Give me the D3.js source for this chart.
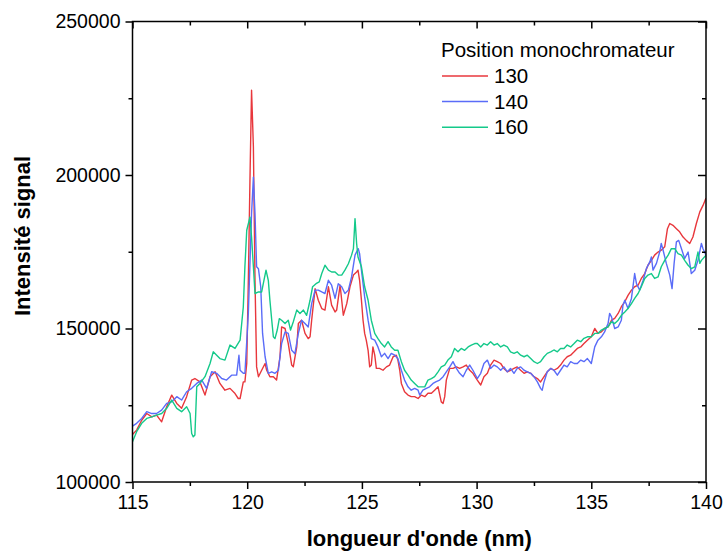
<!DOCTYPE html>
<html>
<head>
<meta charset="utf-8">
<script src="https://cdn.jsdelivr.net/npm/d3@7"></script>
<style>
  body { margin: 0; background: #fff; }
  text { font-family: Arial, "Liberation Sans", sans-serif; }
</style>
</head>
<body>
<div id="chart"></div>
<script>
// spectra: [wavelength nm, signal in thousands]
const s130 = [
  [115.0,115.5],[115.18,116.9],[115.40,120.1],[115.62,122.3],[115.84,121.2],[116.05,121.8],[116.27,119.6],[116.49,124.5],
  [116.71,128.3],[116.93,125.6],[117.14,124.0],[117.36,127.8],[117.58,133.2],[117.72,133.7],[117.94,132.6],[118.16,128.3],
  [118.38,134.3],[118.60,135.9],[118.81,132.1],[119.03,129.9],[119.25,130.5],[119.47,128.8],[119.61,127.2],
  [119.69,127.2],[119.83,132.6],[119.90,132.6],[119.98,138.6],[120.05,165.7],[120.12,198.3],[120.19,227.6],[120.27,209.1],
  [120.34,165.7],[120.41,137.5],[120.49,134.3],[120.63,136.4],[120.78,138.6],[120.85,136.4],[120.99,134.3],[121.14,134.3],
  [121.28,133.2],[121.43,140.8],[121.50,150.5],[121.65,150.0],[121.79,145.1],[121.94,138.1],[122.01,137.5],[122.16,144.0],
  [122.23,151.6],[122.37,152.7],[122.52,148.4],[122.66,146.7],[122.74,147.3],[122.81,152.7],[122.96,163.0],[123.10,159.2],
  [123.25,156.5],[123.39,156.0],[123.54,163.6],[123.68,157.6],[123.83,155.4],[123.90,156.0],[124.05,164.1],[124.19,154.3],
  [124.34,158.1],[124.48,163.6],[124.63,167.4],[124.77,168.4],
  [124.83,169.0],[124.90,165.7],[124.98,159.2],[125.05,152.7],[125.12,148.4],[125.19,146.2],[125.27,142.9],[125.34,137.5],
  [125.41,138.1],[125.48,144.0],[125.56,141.3],[125.63,137.0],[125.77,137.0],[125.92,136.4],[126.07,137.5],[126.21,138.1],
  [126.36,140.8],[126.50,141.3],[126.57,139.7],[126.65,136.4],[126.72,132.1],[126.86,129.4],[127.01,128.3],[127.15,127.8],
  [127.30,127.8],[127.45,127.2],[127.59,128.3],[127.74,127.8],[127.88,128.9],[128.03,128.9],[128.17,129.9],[128.32,131.0],
  [128.46,126.1],[128.54,125.6],[128.61,127.8],[128.68,133.2],[128.83,137.0],[128.97,137.0],[129.12,137.5],[129.26,137.0],
  [129.41,137.5],[129.55,138.1],[129.70,136.4],[129.84,135.4],
  [130.03,133.2],[130.18,131.6],[130.32,134.3],[130.47,135.4],[130.61,138.1],[130.76,139.7],[130.90,139.2],[131.05,138.6],
  [131.19,137.0],[131.34,135.9],[131.48,136.4],[131.63,137.0],[131.77,137.5],[131.92,136.4],[132.07,135.4],[132.21,135.9],
  [132.36,135.4],[132.50,134.3],[132.65,133.7],[132.79,132.6],[132.94,134.3],[133.08,135.9],[133.23,137.0],[133.37,136.4],
  [133.52,137.0],[133.66,138.1],[133.81,139.7],[133.95,140.8],[134.10,141.3],[134.25,142.4],[134.39,143.5],[134.54,144.0],
  [134.68,145.1],[134.83,146.2],
  [135.00,147.3],[135.15,150.0],[135.29,148.4],[135.44,148.9],[135.58,150.0],[135.73,150.5],[135.88,152.7],[136.02,153.3],
  [136.17,154.9],[136.31,157.1],[136.46,158.7],[136.60,160.8],[136.75,162.5],[136.89,163.6],[137.04,164.1],[137.18,166.3],
  [137.33,167.9],[137.47,170.6],[137.62,172.2],[137.76,173.9],[137.91,174.9],[138.05,175.5],[138.20,176.6],[138.32,182.5],
  [138.42,184.2],[138.56,183.6],[138.71,182.5],[138.85,181.5],[139.00,179.8],[139.14,178.7],[139.29,177.7],[139.43,179.8],
  [139.58,184.2],[139.73,188.0],[139.87,190.1],[140.0,192.5]
];

const s140 = [
  [115.0,118.2],[115.18,119.1],[115.40,120.7],[115.62,122.9],[115.84,122.3],[116.05,122.3],[116.27,123.4],[116.49,125.6],
  [116.71,126.1],[116.93,127.8],[117.14,126.7],[117.36,129.4],[117.58,130.5],[117.80,132.1],[118.02,133.2],[118.23,130.5],
  [118.45,135.9],[118.67,135.4],[118.89,133.7],[119.10,133.2],[119.32,134.8],[119.54,134.8],[119.64,141.3],
  [119.69,136.4],[119.83,135.4],[119.90,135.4],[120.05,154.9],[120.19,187.4],[120.27,199.3],[120.34,187.4],[120.41,170.1],
  [120.49,169.5],[120.59,163.6],[120.67,148.4],[120.78,140.8],[120.92,135.4],[121.07,135.9],[121.21,135.4],[121.36,136.4],
  [121.50,145.1],[121.65,148.9],[121.79,148.4],[121.94,142.9],[122.08,141.8],[122.23,148.4],[122.37,152.7],[122.52,151.6],
  [122.66,150.5],[122.81,158.1],[122.96,162.5],[123.10,162.5],[123.25,161.9],[123.39,161.4],[123.54,165.7],[123.68,164.1],
  [123.83,159.8],[123.97,164.6],[124.12,163.6],[124.26,161.4],[124.41,162.5],[124.55,166.8],[124.70,173.9],[124.84,176.0],
  [124.90,174.4],[124.98,169.0],[125.12,160.3],[125.27,152.7],[125.41,146.7],[125.56,146.2],[125.70,144.0],[125.85,140.8],
  [125.99,141.9],[126.14,140.2],[126.28,141.9],[126.43,141.3],[126.57,140.2],[126.72,136.4],[126.86,133.2],[127.01,131.0],
  [127.15,129.9],[127.30,130.5],[127.45,129.9],[127.52,128.3],[127.66,129.9],[127.81,130.5],[127.95,131.0],[128.10,132.1],
  [128.24,132.7],[128.39,133.2],[128.54,134.3],[128.68,135.9],[128.83,137.5],[128.97,139.2],[129.12,137.0],[129.26,135.4],
  [129.41,134.3],[129.55,136.4],[129.70,138.1],[129.84,136.4],
  [130.03,133.7],[130.18,135.4],[130.32,138.6],[130.47,139.7],[130.61,137.0],[130.76,138.1],[130.90,137.5],[131.05,136.4],
  [131.19,137.5],[131.34,135.9],[131.48,137.0],[131.63,135.4],[131.77,137.0],[131.92,137.5],[132.07,136.4],[132.21,135.9],
  [132.36,135.4],[132.50,134.3],[132.65,132.6],[132.79,130.5],[132.86,129.9],[132.94,132.6],[133.08,135.9],[133.23,137.0],
  [133.37,136.4],[133.52,134.8],[133.66,136.4],[133.81,138.1],[133.95,137.5],[134.10,139.2],[134.25,138.6],[134.39,138.6],
  [134.54,139.7],[134.68,139.2],[134.83,140.2],
  [135.00,138.6],[135.15,144.0],[135.29,146.2],[135.44,147.3],[135.58,148.9],[135.73,151.6],[135.80,154.9],[135.88,153.8],
  [136.02,150.0],[136.17,150.5],[136.31,152.7],[136.38,157.6],[136.46,159.2],[136.60,156.5],[136.75,159.8],[136.89,167.9],
  [136.97,164.6],[137.11,162.5],[137.26,165.7],[137.40,169.5],[137.55,171.7],[137.62,173.3],[137.69,169.0],[137.84,171.2],
  [137.98,174.9],[138.05,177.7],[138.13,175.5],[138.27,171.2],[138.42,167.4],[138.52,163.0],[138.61,171.2],[138.71,178.2],
  [138.81,178.7],[138.93,176.0],[139.07,172.8],[139.22,174.9],[139.36,167.9],[139.51,169.0],[139.65,172.2],[139.80,177.7],
  [139.87,176.0],[140.0,173.9]
];

const s160 = [
  [115.0,113.1],[115.18,116.4],[115.40,119.1],[115.62,120.7],[115.84,121.2],[116.05,121.8],[116.27,122.3],[116.49,124.0],
  [116.71,126.7],[116.93,124.0],[117.14,122.9],[117.36,124.5],[117.51,122.3],[117.58,115.8],[117.65,114.7],[117.72,115.3],
  [117.80,131.0],[117.94,132.1],[118.16,134.3],[118.38,138.6],[118.52,142.4],[118.67,141.3],[118.81,140.2],[119.03,139.7],
  [119.25,144.6],[119.47,143.5],
  [119.69,146.2],[119.83,157.0],[119.90,170.1],[119.98,182.0],[120.12,186.3],[120.19,179.8],[120.27,170.1],[120.34,161.4],
  [120.49,161.9],[120.63,161.9],[120.73,165.7],[120.82,169.0],[120.92,165.7],[120.99,159.2],[121.07,152.7],[121.14,147.3],
  [121.21,146.7],[121.31,149.5],[121.40,153.2],[121.50,152.7],[121.65,151.6],[121.79,152.7],[121.89,149.5],[122.01,152.2],
  [122.16,156.0],[122.30,154.9],[122.45,156.0],[122.59,154.3],[122.74,159.2],[122.85,163.6],[123.00,164.6],[123.14,165.2],
  [123.25,167.9],[123.39,170.6],[123.54,169.0],[123.68,168.4],[123.83,168.4],[123.97,167.4],[124.12,167.4],[124.26,169.0],
  [124.41,171.1],[124.55,173.9],[124.63,176.0],[124.70,185.8],[124.77,177.7],
  [124.83,173.3],[124.98,170.1],[125.12,163.6],[125.27,159.2],[125.41,152.7],[125.56,148.4],[125.70,146.7],[125.85,145.1],
  [125.99,144.0],[126.14,145.7],[126.28,144.0],[126.43,142.9],[126.57,142.9],[126.72,139.2],[126.86,136.4],[127.01,134.8],
  [127.15,133.2],[127.30,132.1],[127.45,131.0],[127.59,131.0],[127.74,131.0],[127.88,133.2],[128.03,133.7],[128.17,134.3],
  [128.32,135.9],[128.46,137.5],[128.61,138.1],[128.75,139.7],[128.90,140.8],[129.04,143.5],[129.19,142.4],[129.33,143.5],
  [129.48,142.9],[129.63,144.0],[129.77,144.6],[129.92,145.1],
  [130.03,145.1],[130.18,144.0],[130.32,145.1],[130.47,144.6],[130.61,145.7],[130.76,144.6],[130.90,145.1],[131.05,144.0],
  [131.19,144.6],[131.34,144.0],[131.48,142.4],[131.63,141.9],[131.77,142.4],[131.92,141.3],[132.07,140.8],[132.21,141.3],
  [132.36,140.2],[132.50,139.2],[132.65,138.6],[132.79,139.2],[132.94,140.8],[133.08,141.9],[133.23,142.4],[133.37,143.0],
  [133.52,142.4],[133.66,143.5],[133.81,143.5],[133.95,144.6],[134.10,144.0],[134.25,145.1],[134.39,146.2],[134.54,145.7],
  [134.68,146.8],[134.83,147.3],
  [135.00,147.3],[135.15,148.4],[135.29,148.4],[135.44,149.5],[135.58,150.0],[135.73,150.5],[135.88,152.2],[136.02,151.6],
  [136.17,152.7],[136.31,154.3],[136.46,155.4],[136.60,156.5],[136.75,158.1],[136.89,159.8],[137.04,161.4],[137.18,163.6],
  [137.33,166.3],[137.47,167.4],[137.62,167.9],[137.76,166.3],[137.91,166.8],[138.05,170.1],[138.20,172.2],[138.35,173.9],
  [138.49,176.0],[138.64,176.0],[138.78,174.4],[138.93,173.9],[139.07,172.2],[139.22,170.6],[139.36,169.5],[139.51,170.1],
  [139.65,174.9],[139.73,171.2],[139.80,172.2],[140.0,173.9]
];

const seriesNames = ["130", "140", "160"];
const seriesColors = ["#e8373c", "#5a6cf8", "#14c98a"];
const xMajor = [115, 120, 125, 130, 135, 140];
const xMinor = [117.5, 122.5, 127.5, 132.5, 137.5];
const yMajor = [100000, 150000, 200000, 250000];
const yMinor = [125000, 175000, 225000];

const width = 724;
const height = 553;
const margin = {top: 21.5, right: 18, bottom: 71, left: 132.5};

const svg = d3.select("#chart")
    .append("svg")
    .attr("width", width)
    .attr("height", height);

const x = d3.scaleLinear().domain([115, 140]).range([margin.left, width - margin.right]);
const y = d3.scaleLinear().domain([100000, 250000]).range([height - margin.bottom, margin.top]);

const plotBottom = y(100000), plotTop = y(250000), plotLeft = x(115), plotRight = x(140);

svg.append("clipPath").attr("id", "plot")
    .append("rect")
    .attr("x", plotLeft).attr("y", plotTop)
    .attr("width", plotRight - plotLeft).attr("height", plotBottom - plotTop);

// lines
const line = d3.line()
    .x(d => x(d[0]))
    .y(d => y(d[1] * 1000));

[s130, s140, s160].forEach((s, i) => {
    svg.append("path")
        .datum(s)
        .attr("clip-path", "url(#plot)")
        .attr("fill", "none")
        .attr("stroke", seriesColors[i])
        .attr("stroke-width", 1.4)
        .attr("stroke-linejoin", "round")
        .attr("d", line);
});

// axes
function styleAxis(g) {
    g.select(".domain").remove();
    g.selectAll(".tick line").attr("stroke", "#000").attr("stroke-width", 1.5);
    g.selectAll("text").style("font-size", "19.5px").attr("fill", "#000");
}

svg.append("g").attr("transform", `translate(0,${plotBottom})`)
    .call(d3.axisBottom(x).tickValues(xMajor).tickSize(7).tickPadding(6).tickFormat(d3.format("d")))
    .call(styleAxis);
svg.append("g").attr("transform", `translate(0,${plotBottom})`)
    .call(d3.axisBottom(x).tickValues(xMinor).tickSize(4).tickFormat(""))
    .call(styleAxis);
svg.append("g").attr("transform", `translate(0,${plotTop})`)
    .call(d3.axisTop(x).tickValues(xMajor).tickSize(-7).tickFormat(""))
    .call(styleAxis);
svg.append("g").attr("transform", `translate(0,${plotTop})`)
    .call(d3.axisTop(x).tickValues(xMinor).tickSize(-4).tickFormat(""))
    .call(styleAxis);

svg.append("g").attr("transform", `translate(${plotLeft},0)`)
    .call(d3.axisLeft(y).tickValues(yMajor).tickSize(7).tickPadding(5).tickFormat(d3.format("d")))
    .call(styleAxis);
svg.append("g").attr("transform", `translate(${plotLeft},0)`)
    .call(d3.axisLeft(y).tickValues(yMinor).tickSize(4).tickFormat(""))
    .call(styleAxis);
svg.append("g").attr("transform", `translate(${plotRight},0)`)
    .call(d3.axisRight(y).tickValues(yMajor).tickSize(-8).tickFormat(""))
    .call(styleAxis);
svg.append("g").attr("transform", `translate(${plotRight},0)`)
    .call(d3.axisRight(y).tickValues(yMinor).tickSize(-4).tickFormat(""))
    .call(styleAxis);

// frame
svg.append("rect")
    .attr("x", plotLeft).attr("y", plotTop)
    .attr("width", plotRight - plotLeft).attr("height", plotBottom - plotTop)
    .attr("fill", "none")
    .attr("stroke", "#000")
    .attr("stroke-width", 1.5);

// axis titles
svg.append("text")
    .attr("x", (plotLeft + plotRight) / 2)
    .attr("y", 546)
    .attr("text-anchor", "middle")
    .style("font-size", "22px")
    .style("font-weight", "bold")
    .text("longueur d'onde (nm)");

svg.append("text")
    .attr("transform", "translate(30,236) rotate(-90)")
    .attr("text-anchor", "middle")
    .style("font-size", "22px")
    .style("font-weight", "bold")
    .text("Intensité signal");

// legend
const legend = svg.append("g");
legend.append("text")
    .attr("x", 441).attr("y", 57)
    .style("font-size", "20.5px")
    .text("Position monochromateur");

seriesNames.forEach((name, i) => {
    const ly = 76 + i * 25.6;
    legend.append("line")
        .attr("x1", 442).attr("x2", 488)
        .attr("y1", ly).attr("y2", ly)
        .attr("stroke", seriesColors[i])
        .attr("stroke-width", 1.5);
    legend.append("text")
        .attr("x", 494).attr("y", ly + 7)
        .style("font-size", "20.5px")
        .text(name);
});
</script>
</body>
</html>
